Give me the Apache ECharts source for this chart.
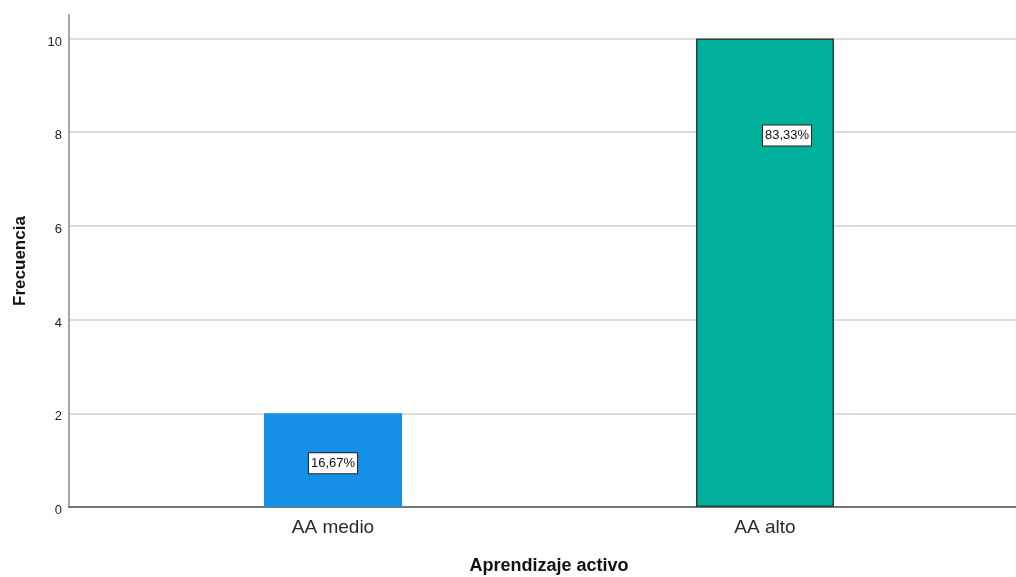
<!DOCTYPE html>
<html>
<head>
<meta charset="utf-8">
<script src="https://cdn.jsdelivr.net/npm/echarts@6/dist/echarts.min.js"></script>
<style>
html,body{margin:0;padding:0;background:#fff;}
#c{width:1016px;height:577px;}
</style>
</head>
<body>
<div id="c"></div>
<script>
const categories = ['AA medio', 'AA alto'];
const frequencies = [2, 10];
const pctLabels = ['16,67%', '83,33%'];
const yTicks = [0, 2, 4, 6, 8, 10];

const barColors = ['#1690E6', '#00B09C'];
const barBorders = [{ c: '#1690E6', w: 0 }, { c: '#2f3f3b', w: 1.5 }];
const labelPlacement = [[69, 50], [91, 97]];

const font = '"Liberation Sans", Arial, sans-serif';
const chart = echarts.init(document.getElementById('c'), null, { renderer: 'canvas' });

const data = frequencies.map((v, i) => ({
  value: v,
  itemStyle: { color: barColors[i], borderColor: barBorders[i].c, borderWidth: barBorders[i].w },
  label: {
    show: true,
    position: labelPlacement[i],
    align: 'center',
    verticalAlign: 'middle',
    formatter: pctLabels[i],
    fontFamily: font,
    fontSize: 13,
    color: '#111',
    backgroundColor: '#fff',
    borderColor: '#222',
    borderWidth: 1,
    padding: [4, 2, 3, 2]
  }
}));

chart.setOption({
  animation: false,
  backgroundColor: '#fff',
  grid: [
    { left: 69, right: 0, top: 15, bottom: 70, containLabel: false, outerBoundsMode: 'none' },
    { left: 117, right: 35, top: 15, bottom: 70, containLabel: false, outerBoundsMode: 'none' }
  ],
  xAxis: [
    {
      gridIndex: 0, type: 'value', min: 0, max: 1,
      axisLine: { show: true, lineStyle: { color: '#4a4a4a', width: 1.5 } },
      axisTick: { show: false }, axisLabel: { show: false }, splitLine: { show: false }
    },
    {
      gridIndex: 1, type: 'category', data: categories,
      axisLine: { show: false }, axisTick: { show: false },
      axisLabel: { fontFamily: font, fontSize: 19, color: '#2a2a2a', margin: 11 },
      name: 'Aprendizaje activo', nameLocation: 'middle', nameGap: 50,
      nameTextStyle: { fontFamily: font, fontSize: 18, fontWeight: 'bold', color: '#111' }
    }
  ],
  yAxis: [
    {
      gridIndex: 0, type: 'value', min: 0, max: 10.5, interval: 2,
      axisLine: { show: true, lineStyle: { color: '#a6a6a6', width: 2 } },
      axisTick: { show: false },
      axisLabel: {
        fontFamily: font, fontSize: 13, color: '#222', margin: 7, showMaxLabel: false,
        lineHeight: 19, verticalAlign: 'top', padding: [-6, 0, 0, 0],
        formatter: v => (yTicks.indexOf(v) >= 0 ? String(v) : '')
      },
      splitLine: { show: true, showMinLine: false, showMaxLine: false, lineStyle: { color: '#d2d2d2', width: 1.5 } },
      name: 'Frecuencia', nameLocation: 'middle', nameGap: 40,
      nameTextStyle: { fontFamily: font, fontSize: 17, fontWeight: 'bold', color: '#111' }
    },
    {
      gridIndex: 1, type: 'value', min: 0, max: 10.5, interval: 2, show: false,
      splitLine: { show: false }
    }
  ],
  series: [
    {
      type: 'bar', xAxisIndex: 1, yAxisIndex: 1,
      barWidth: 138,
      data: data
    }
  ]
});
</script>
</body>
</html>
